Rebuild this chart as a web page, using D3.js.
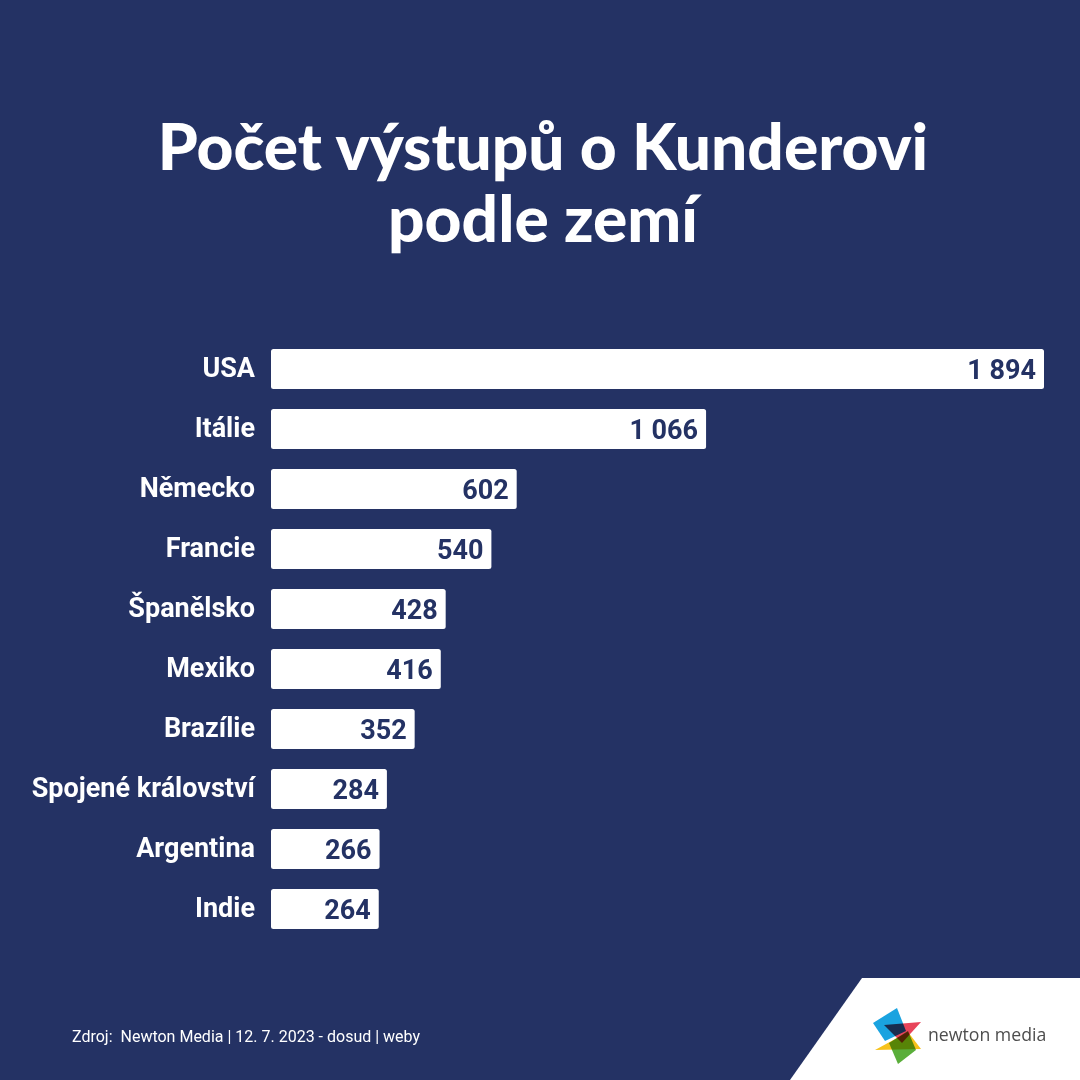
<!DOCTYPE html>
<html>
<head>
<meta charset="utf-8">
<script src="https://cdn.jsdelivr.net/npm/d3@7"></script>
<style>
  html, body { margin: 0; padding: 0; background: #243264; }
  svg { display: block; }
</style>
</head>
<body>
<svg id="chart" width="1080" height="1080"></svg>
<script>
const countries = ['USA', 'Itálie', 'Německo', 'Francie', 'Španělsko', 'Mexiko', 'Brazílie', 'Spojené království', 'Argentina', 'Indie']
const counts = [1894, 1066, 602, 540, 428, 416, 352, 284, 266, 264]
const titleLines = ['Počet výstupů o Kunderovi', 'podle zemí']
const sourceNote = 'Zdroj:  Newton Media | 12. 7. 2023 - dosud | weby'

const W = 1080
const H = 1080
const bgColor = '#243264'
const barColor = '#ffffff'
const valueColor = '#243264'

const svg = d3.select('#chart')

svg.append('rect').attr('width', W).attr('height', H).attr('fill', bgColor)

// Title
svg.append('g')
  .selectAll('text')
  .data(titleLines)
  .join('text')
  .attr('x', 543)
  .attr('y', (d, i) => 170 + i * 72)
  .attr('text-anchor', 'middle')
  .attr('fill', '#ffffff')
  .style('font-family', 'Lato, "Open Sans", sans-serif')
  .style('font-weight', 900)
  .style('font-size', '64px')
  .text((d) => d)

// Scales
const x = d3.scaleLinear().domain([0, d3.max(counts)]).range([271, 1044])
const y = d3.scaleBand().domain(countries).range([339, 939]).paddingInner(1 / 3).paddingOuter(1 / 6)

const rows = countries.map((c, i) => ({ country: c, value: counts[i] }))

// Bars
svg.append('g')
  .selectAll('rect')
  .data(rows)
  .join('rect')
  .attr('x', x(0))
  .attr('y', (d) => y(d.country))
  .attr('width', (d) => x(d.value) - x(0))
  .attr('height', y.bandwidth())
  .attr('rx', 2.5)
  .attr('fill', barColor)

// Category labels
svg.append('g')
  .selectAll('text')
  .data(rows)
  .join('text')
  .attr('x', 255)
  .attr('y', (d) => y(d.country) + y.bandwidth() / 2 + 8)
  .attr('text-anchor', 'end')
  .attr('fill', '#ffffff')
  .style('font-family', 'Roboto, sans-serif')
  .style('font-weight', 700)
  .style('font-size', '27px')
  .text((d) => d.country)

// Value labels
const fmt = (v) => d3.format(',')(v).replace(/,/g, ' ')
svg.append('g')
  .selectAll('text')
  .data(rows)
  .join('text')
  .attr('x', (d) => x(d.value) - 8)
  .attr('y', (d) => y(d.country) + y.bandwidth() / 2 + 10)
  .attr('text-anchor', 'end')
  .attr('fill', valueColor)
  .style('font-family', 'Roboto, sans-serif')
  .style('font-weight', 700)
  .style('font-size', '27px')
  .text((d) => fmt(d.value))

// Source note
svg.append('text')
  .attr('x', 72)
  .attr('y', 1042)
  .attr('fill', '#ffffff')
  .style('font-family', 'Roboto, sans-serif')
  .style('font-size', '16px')
  .style('white-space', 'pre')
  .text(sourceNote)

// White corner with logo
svg.append('path')
  .attr('d', 'M862,978 L1080,978 L1080,1080 L790,1080 Z')
  .attr('fill', '#ffffff')

const logo = svg.append('g').style('isolation', 'isolate')
const logoShapes = [
  { pts: '897,1008 873,1023 885,1041 906,1031', fill: '#1aa3e0' },
  { pts: '875,1050 908,1032 921,1049', fill: '#f7c21b' },
  { pts: '884,1025 921,1022 902,1043', fill: '#e8445a' },
  { pts: '889,1043 908,1031 916,1050 898,1064', fill: '#5aae3a' }
]
logo.selectAll('polygon')
  .data(logoShapes)
  .join('polygon')
  .attr('points', (d) => d.pts)
  .attr('fill', (d) => d.fill)
  .style('mix-blend-mode', 'multiply')

svg.append('text')
  .attr('x', 928)
  .attr('y', 1041)
  .attr('fill', '#4d4d4d')
  .style('font-family', '"Open Sans", sans-serif')
  .style('font-size', '17.7px')
  .text('newton media')
</script>
</body>
</html>
